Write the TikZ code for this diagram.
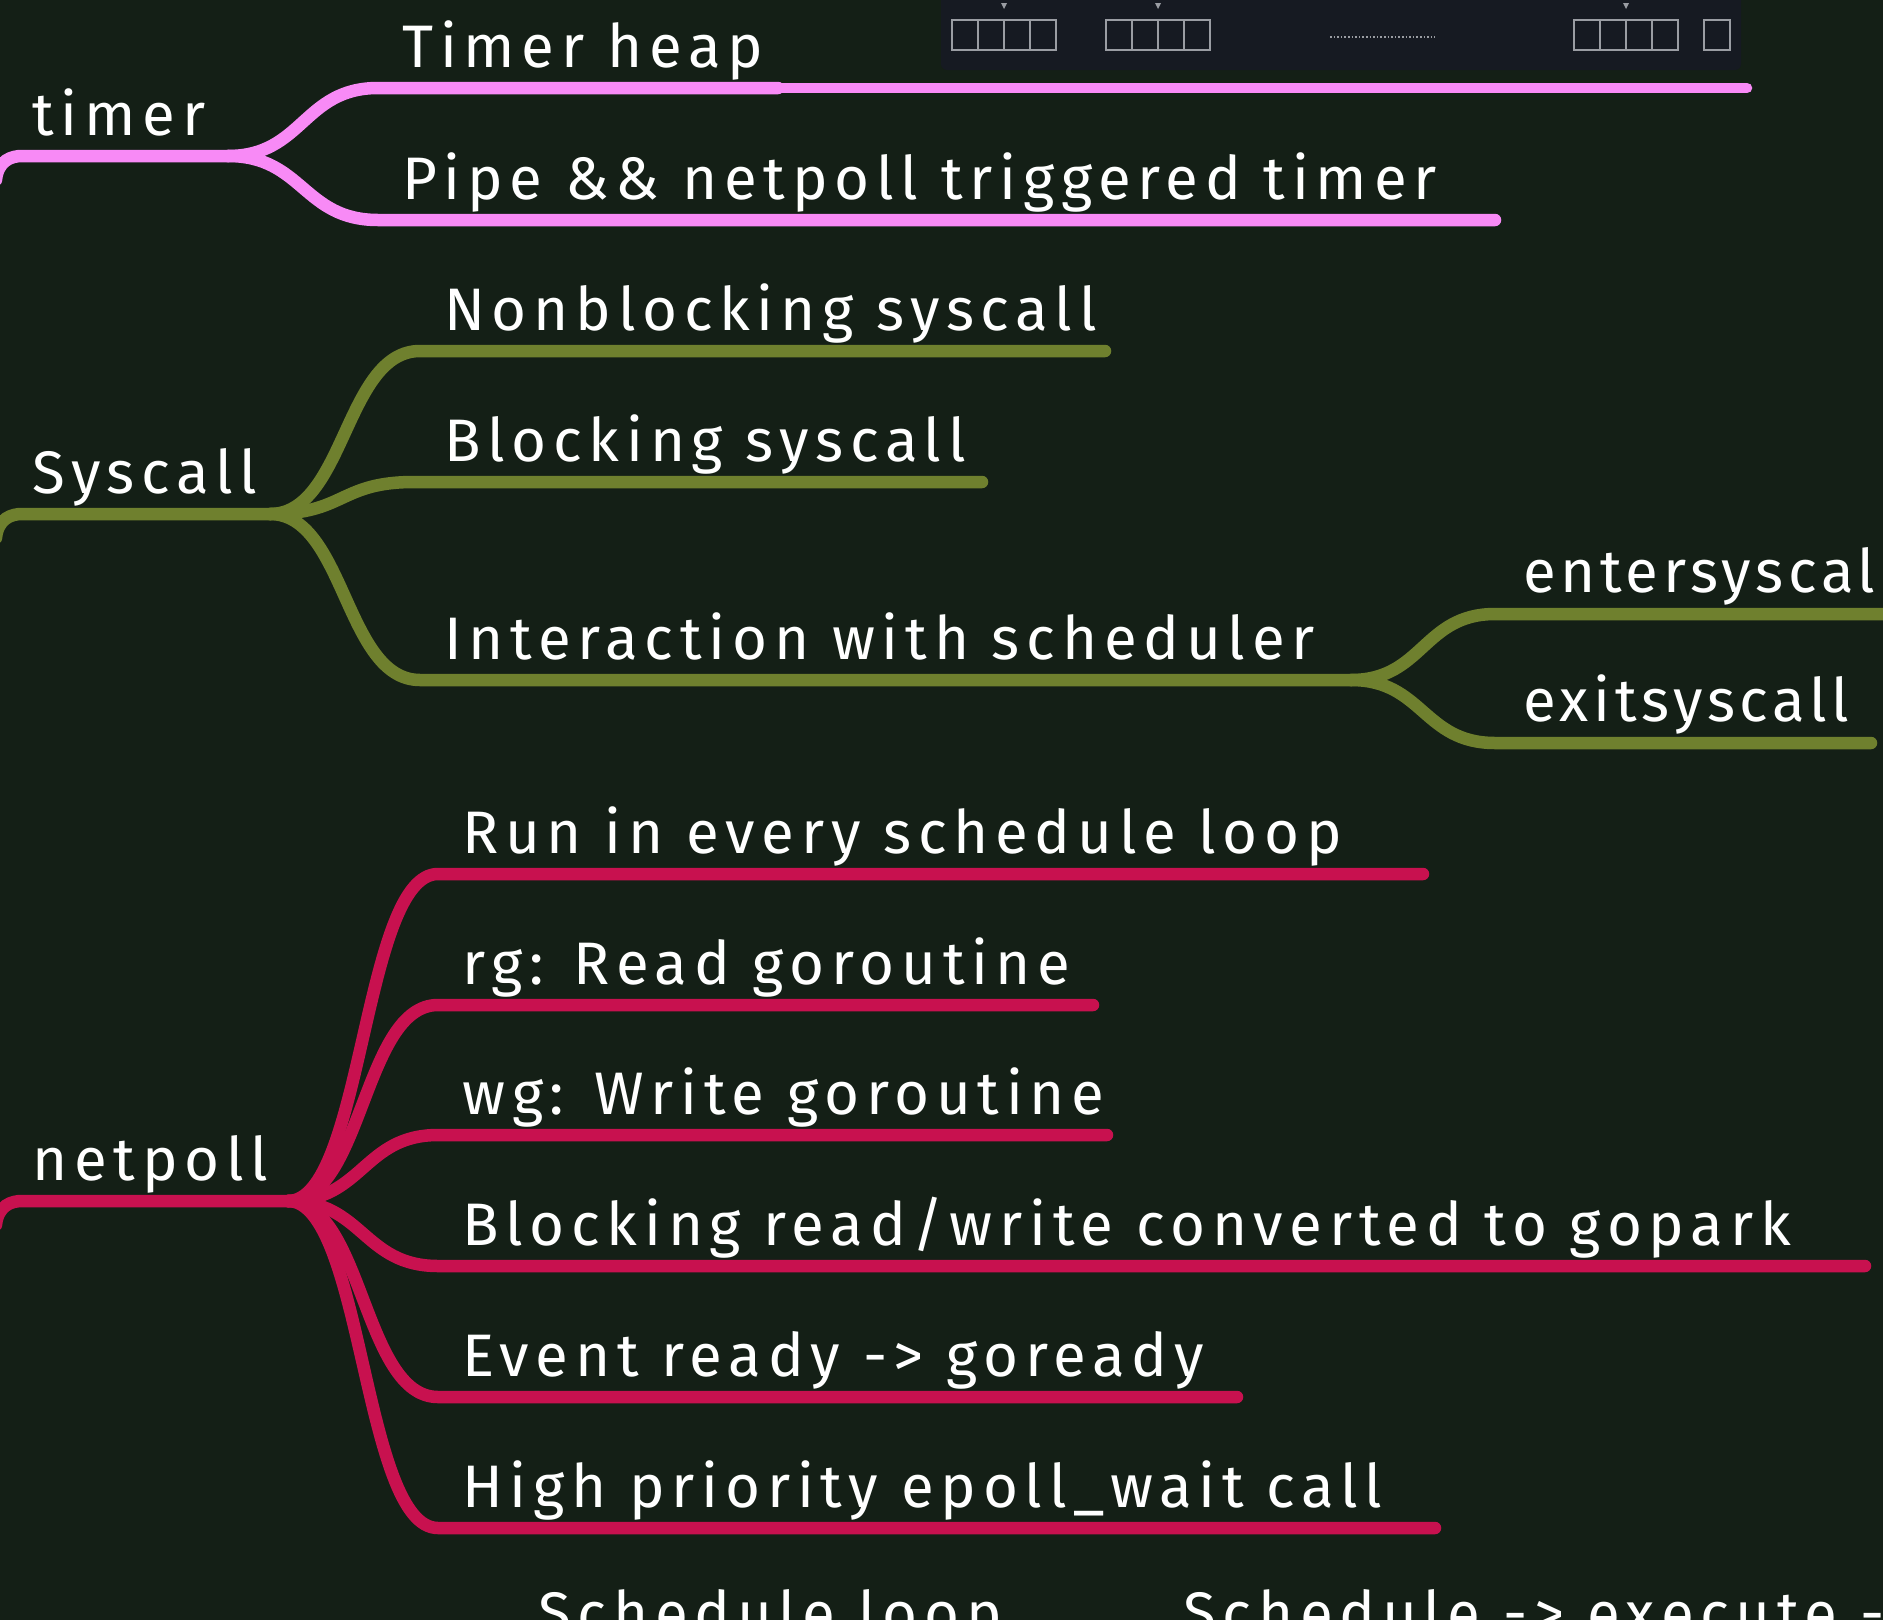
\documentclass[tikz,border=0pt]{standalone}
\usepackage{fontspec}
\setmainfont{Fira Sans}[LetterSpace=11.3]
\usetikzlibrary{calc}
\definecolor{boardbg}{HTML}{141F16}
\definecolor{timerpink}{HTML}{F88AF6}
\definecolor{sysolive}{HTML}{6F802E}
\definecolor{netred}{HTML}{C8114F}
\definecolor{imgnavy}{HTML}{161A22}
\definecolor{cellgray}{HTML}{9A9DA3}

\begin{document}
\begin{tikzpicture}[x=1pt, y=-1pt,
  topic/.style={anchor=base west, text=white, inner sep=0pt, font=\fontsize{60}{70}\selectfont},
  subtopic/.style={topic, font=\fontsize{60}{70}\selectfont\addfontfeature{LetterSpace=7.8}},
  branch/.style={line width=12.5pt, line cap=round}]

  % Board
  \clip (0,0) rectangle (1883,1620);
  \fill[boardbg] (0,0) rectangle (1883,1620);

  % Timer heap picture (top right)
  \fill[imgnavy, rounded corners=6pt] (941,-10) rectangle (1741,70);
  \foreach \bx in {952, 1106, 1574} {
    \draw[cellgray, line width=1.3pt] (\bx,20) rectangle +(104,30);
    \foreach \c in {1,2,3}
      \draw[cellgray, line width=1.3pt] (\bx+\c*26,20) -- +(0,30);
    \fill[cellgray] (\bx+49,3) -- (\bx+55,3) -- (\bx+52,9) -- cycle;
  }
  \begin{scope}
    \clip (941,0) rectangle (1731,70);
    \draw[cellgray, line width=1.3pt] (1704,20) rectangle +(26,30);
  \end{scope}
  \draw[cellgray, line width=1.6pt, dotted] (1330,37) -- (1435,37);

  % timer
  \coordinate (timer-root) at (0,156);
  \coordinate (timer-fork) at (228,156);
  \coordinate (heap-start) at (378,88);
  \coordinate (heap-mid) at (778,88);
  \coordinate (heap-end) at (1747,88);
  \coordinate (pipe-start) at (378,220);
  \coordinate (pipe-end) at (1495,220);
  \draw[branch, timerpink] ($(timer-root)+(-4,24)$) .. controls +(2,-20) and +(-10,0) .. ($(timer-root)+(22,0)$) -- (timer-fork);
  \draw[branch, timerpink] (timer-fork) .. controls +(75,0) and +(-75,0) .. (heap-start) -- (heap-mid);
  \draw[branch, timerpink, line width=10.5pt] (heap-mid) -- (heap-end);
  \draw[branch, timerpink] (timer-fork) .. controls +(75,0) and +(-75,0) .. (pipe-start) -- (pipe-end);
  \node[topic] (timer) at (32,135) {timer};
  \node[topic] (heap) at (402,67) {Timer heap};
  \node[topic] (pipe) at (402,199) {Pipe \&\& netpoll triggered timer};

  % Syscall
  \coordinate (sys-root) at (0,514);
  \coordinate (sys-fork) at (270,514);
  \draw[branch, sysolive] ($(sys-root)+(-4,24)$) .. controls +(2,-20) and +(-10,0) .. ($(sys-root)+(22,0)$) -- (sys-fork);
  \foreach \nm/\xs/\yy/\xe/\txt in {
    nonblock/420/351/1105/{Nonblocking syscall},
    block/414/482/982/{Blocking syscall},
    interact/420/680/1351/{Interaction with scheduler}
  } {
    \coordinate (\nm-start) at (\xs,\yy);
    \coordinate (\nm-end) at (\xe,\yy);
    \draw[branch, sysolive] (sys-fork) .. controls +(75,0) and +(-75,0) .. (\nm-start) -- (\nm-end);
    \node[topic] (\nm) at (444,\yy-21) {\txt};
  }
  \node[topic] (sys) at (32,493) {Syscall};

  % enter / exit syscall
  \coordinate (interact-fork) at (interact-end);
  \foreach \nm/\yy/\xe/\txt in {
    enter/614/1910/{entersyscall},
    exit/743/1871/{exitsyscall}
  } {
    \coordinate (\nm-start) at (1495,\yy);
    \coordinate (\nm-end) at (\xe,\yy);
    \draw[branch, sysolive] (interact-fork) .. controls +(72,0) and +(-72,0) .. (\nm-start) -- (\nm-end);
    \node[subtopic] (\nm) at (1523,\yy-22) {\txt};
  }

  % netpoll
  \coordinate (net-root) at (0,1201);
  \coordinate (net-fork) at (288,1201);
  \draw[branch, netred] ($(net-root)+(-4,24)$) .. controls +(2,-20) and +(-10,0) .. ($(net-root)+(22,0)$) -- (net-fork);
  \foreach \nm/\yy/\xe/\txt in {
    run/874/1423/{Run in every schedule loop},
    rg/1005/1093/{rg: Read goroutine},
    wg/1135/1107/{wg: Write goroutine},
    gopark/1266/1865/{Blocking read/write converted to gopark},
    goready/1397/1237/{Event ready -> goready},
    epoll/1528/1435/{High priority epoll\_wait call}
  } {
    \coordinate (\nm-start) at (438,\yy);
    \coordinate (\nm-end) at (\xe,\yy);
    \draw[branch, netred] (net-fork) .. controls +(75,0) and +(-75,0) .. (\nm-start) -- (\nm-end);
    \node[topic] (\nm) at (462,\yy-21) {\txt};
  }
  \node[topic] (net) at (32,1180) {netpoll};

  % next branch (cut by the bottom edge)
  \node[topic] (loop) at (538,1634) {Schedule loop};
  \node[topic] (exec) at (1183,1634) {Schedule -> execute ->};

\end{tikzpicture}
\end{document}
